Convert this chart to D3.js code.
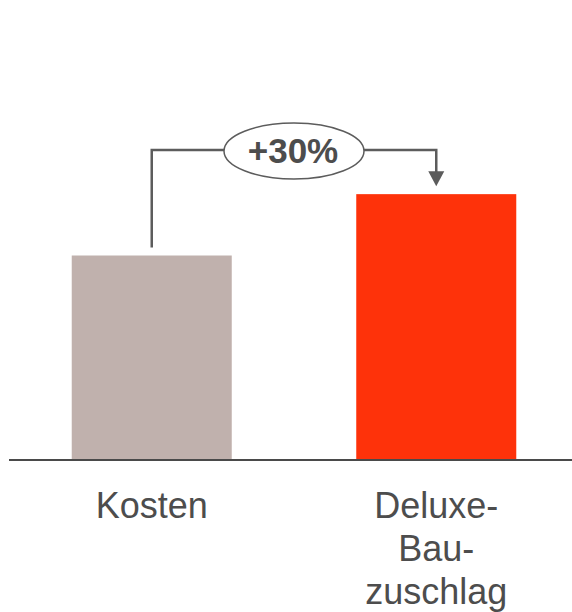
<!DOCTYPE html>
<html>
<head>
<meta charset="utf-8">
<script src="https://cdn.jsdelivr.net/npm/d3@7"></script>
<style>
  html, body { margin: 0; padding: 0; background: #ffffff; }
  svg { display: block; }
</style>
</head>
<body>
<svg id="chart" width="572" height="612"></svg>
<script>
// Categories, their label lines and values
const categories = ["Kosten", "Deluxe-Bau-zuschlag"];
const categoryLines = [["Kosten"], ["Deluxe-", "Bau-", "zuschlag"]];
const values = [100, 130];
const barColors = ["#c0b1ad", "#fe320a"];
const changeLabel = "+30%";

const W = 572, H = 612;
const baseY = 460;
const ink = "#4d4d4d";
const lineInk = "#5c5c5c";
const font = "'Liberation Sans', Arial, Helvetica, sans-serif";

const svg = d3.select("#chart");

const x = d3.scaleBand()
  .domain(categories)
  .range([8, 580])
  .paddingInner(0.4376)
  .paddingOuter(0.224);

const y = d3.scaleLinear()
  .domain([0, 100])
  .range([baseY, 255.5]);

// Bars
svg.selectAll("rect.bar")
  .data(categories)
  .join("rect")
  .attr("class", "bar")
  .attr("x", d => x(d))
  .attr("width", x.bandwidth())
  .attr("y", (d, i) => y(values[i]))
  .attr("height", (d, i) => baseY - y(values[i]))
  .attr("fill", (d, i) => barColors[i]);

// Baseline
svg.append("line")
  .attr("x1", 9).attr("x2", W)
  .attr("y1", baseY).attr("y2", baseY)
  .attr("stroke", "#4a4a4a")
  .attr("stroke-width", 2);

// Category labels below the bars
const lh = 42.8;
svg.selectAll("text.cat")
  .data(categories)
  .join("text")
  .attr("class", "cat")
  .attr("x", d => x(d) + x.bandwidth() / 2)
  .attr("y", 518)
  .attr("text-anchor", "middle")
  .attr("font-family", font)
  .attr("font-size", 36)
  .attr("fill", ink)
  .each(function(d, i) {
    const t = d3.select(this);
    categoryLines[i].forEach((ln, k) => {
      t.append("tspan")
        .attr("x", x(d) + x.bandwidth() / 2)
        .attr("dy", k === 0 ? 0 : lh)
        .text(ln);
    });
  });

// Growth connector: from first bar up, across, and down onto the second bar
const cx0 = x(categories[0]) + x.bandwidth() / 2;
const cx1 = x(categories[1]) + x.bandwidth() / 2;
const topY = 150;
const startY = y(values[0]) - 8;
const tipY = y(values[1]) - 8;
const headH = 15, headW = 8;

svg.append("path")
  .attr("d", `M${cx0},${startY} V${topY} H${cx1} V${tipY - headH + 1}`)
  .attr("fill", "none")
  .attr("stroke", lineInk)
  .attr("stroke-width", 2.5);

svg.append("path")
  .attr("d", `M${cx1 - headW},${tipY - headH} L${cx1 + headW},${tipY - headH} L${cx1},${tipY} Z`)
  .attr("fill", lineInk);

const ex = (cx0 + cx1) / 2;
svg.append("ellipse")
  .attr("cx", ex).attr("cy", 151)
  .attr("rx", 70).attr("ry", 28)
  .attr("fill", "#ffffff")
  .attr("stroke", lineInk)
  .attr("stroke-width", 1.5);

svg.append("text")
  .attr("x", ex - 1)
  .attr("y", 163)
  .attr("text-anchor", "middle")
  .attr("font-family", font)
  .attr("font-weight", "bold")
  .attr("font-size", 35)
  .attr("fill", ink)
  .text(changeLabel);
</script>
</body>
</html>
